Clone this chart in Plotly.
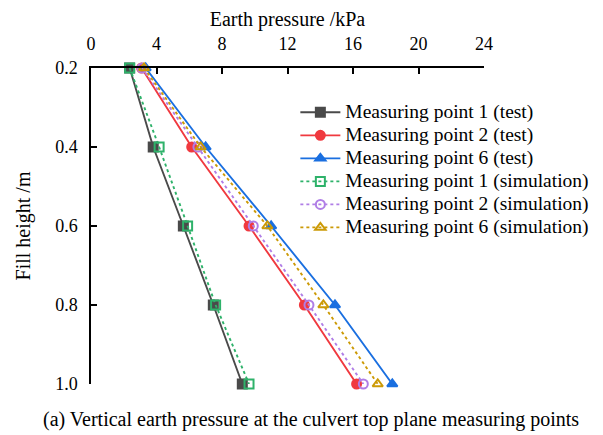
import plotly.graph_objects as go

fill_height = [0.2, 0.4, 0.6, 0.8, 1.0]
mp1_test = [2.36, 3.80, 5.64, 7.47, 9.24]
mp2_test = [3.09, 6.15, 9.65, 13.03, 16.22]
mp6_test = [3.34, 7.00, 11.00, 14.90, 18.40]
mp1_sim = [2.36, 4.16, 5.90, 7.61, 9.65]
mp2_sim = [3.12, 6.53, 9.91, 13.31, 16.63]
mp6_sim = [3.24, 6.70, 10.77, 14.19, 17.51]

names = ["Measuring point 1 (test)", "Measuring point 2 (test)", "Measuring point 6 (test)",
         "Measuring point 1 (simulation)", "Measuring point 2 (simulation)", "Measuring point 6 (simulation)"]
series = [mp1_test, mp2_test, mp6_test, mp1_sim, mp2_sim, mp6_sim]
colors = ["#4a4a4a", "#f0393f", "#1a6fe0", "#2eb26a", "#b07ee6", "#cc9a06"]
symbols = ["square", "circle", "triangle-up", "square-open", "circle-open", "triangle-up-open"]
dashes = ["solid", "solid", "solid", "dot", "dot", "dot"]

fig = go.Figure()
for n, s, c, sym, d in zip(names, series, colors, symbols, dashes):
    fig.add_trace(go.Scatter(
        x=s, y=fill_height,
        name='<span style="font-size:19.5px">' + n + '</span>',
        mode="lines+markers",
        line=dict(color=c, width=1.9, dash=d),
        marker=dict(symbol=sym, size=9, color=c, line=dict(color=c, width=2)),
        cliponaxis=False,
    ))

font = "Liberation Serif"
fig.update_layout(
    width=595, height=427,
    margin=dict(l=83, r=119, t=60, b=51, autoexpand=False),
    paper_bgcolor="white", plot_bgcolor="white",
    font=dict(family=font, size=20, color="black"),
    showlegend=True,
    legend=dict(x=0.52, y=0.912, xanchor="left", yanchor="top",
                bgcolor="rgba(0,0,0,0)", font=dict(size=15.4, family=font),
                tracegroupgap=0, itemwidth=40),
    xaxis=dict(side="top", range=[0, 24], dtick=4, tick0=0,
               showgrid=False, zeroline=False, showline=True, linecolor="black", linewidth=1.5,
               ticks="inside", ticklen=6, tickwidth=1.5, tickcolor="black",
               ticklabelstandoff=9,
               title=dict(text="Earth pressure /kPa", standoff=2, font=dict(size=20)),
               tickfont=dict(size=18)),
    yaxis=dict(range=[1.0, 0.2], tickvals=[0.2, 0.4, 0.6, 0.8, 1.0],
               ticktext=["0.2", "0.4", "0.6", "0.8", "1.0"],
               showgrid=False, zeroline=False, showline=True, linecolor="black", linewidth=1.5,
               ticks="inside", ticklen=6, tickwidth=1.5, tickcolor="black",
               ticklabelstandoff=8,
               title=dict(text="Fill height /m", standoff=19, font=dict(size=20)),
               tickfont=dict(size=18)),
    annotations=[dict(text="(a) Vertical earth pressure at the culvert top plane measuring points",
                      xref="paper", yref="paper", x=0.56, y=-0.111, xanchor="center", yanchor="middle",
                      showarrow=False, font=dict(size=20, family=font))],
)

fig.write_html("out.html")
